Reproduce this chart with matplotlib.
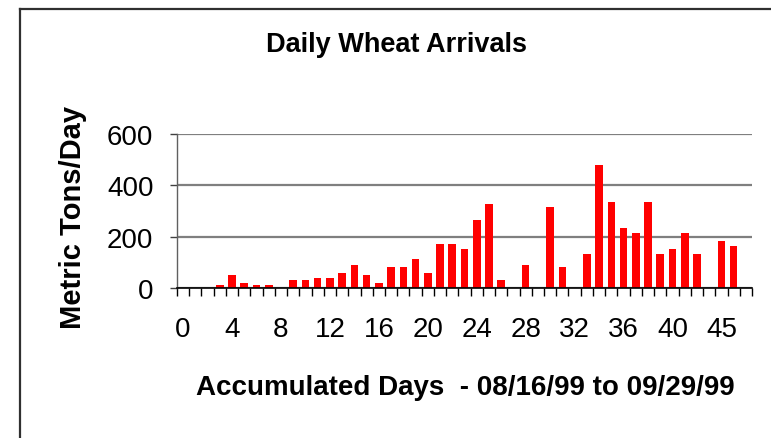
import numpy as np
import matplotlib
matplotlib.use('Agg')
import matplotlib.pyplot as plt
from matplotlib.lines import Line2D

# --- DATA ---
day_labels = [str(d) for d in range(0, 44)] + ['45', '46', '47']
arrivals = [0, 0, 0, 13, 52, 21, 13, 13, 0, 32,
            32, 40, 40, 60, 91, 52, 21, 83, 83, 114,
            60, 173, 173, 153, 266, 329, 32, 0, 91, 0,
            317, 83, 0, 134, 481, 337, 235, 216, 337, 134,
            153, 216, 134, 0, 185, 165, 0]
y_ticks = [0, 200, 400, 600]

plt.rcParams['font.family'] = ['Liberation Sans', 'DejaVu Sans']

W, H = 771, 439
fig = plt.figure(figsize=(W / 100, H / 100), dpi=100)

# axes placed in pixel terms of the reference
left, right, top, bottom = 177, 752, 135, 289
ax = fig.add_axes([left / W, 1 - bottom / H, (right - left) / W, (bottom - top) / H])

x = np.arange(len(arrivals))
ax.bar(x, arrivals, width=0.62, color='#ff0000', zorder=3)

ax.set_xlim(-0.5, len(arrivals) - 0.5)
ax.set_ylim(0, 600)

# y axis
ax.set_yticks(y_ticks)
ax.set_yticklabels([str(v) for v in y_ticks], fontsize=20)
ax.tick_params(axis='y', direction='out', length=5, width=1, pad=12, color='#404040')
ax.grid(axis='y', color='#7f7f7f', linewidth=1.6, zorder=1)

# x axis: labels every 4 categories, tick marks at category boundaries
ax.set_xticks(x[::4])
ax.set_xticklabels(day_labels[::4], fontsize=20)
ax.set_xticks(np.arange(-0.5, len(arrivals)), minor=True)
ax.tick_params(axis='x', which='major', length=0, pad=20)
ax.tick_params(axis='x', which='minor', direction='out', length=6, width=1, color='black')

for side in ['top', 'right']:
    ax.spines[side].set_visible(False)
ax.spines['left'].set_color('#606060')
ax.spines['left'].set_linewidth(1)
ax.spines['bottom'].set_color('black')
ax.spines['bottom'].set_linewidth(1.2)
ax.spines['bottom'].set_zorder(4)

# texts
fig.text(397 / W, 1 - 52 / H, 'Daily Wheat Arrivals', ha='center', va='baseline',
         fontsize=19.5, fontweight='bold')
fig.text(73 / W, 1 - 217 / H, 'Metric Tons/Day', ha='center', va='center',
         rotation=90, fontsize=21, fontweight='bold')
fig.text(465 / W, 1 - 395 / H, 'Accumulated Days  - 08/16/99 to 09/29/99',
         ha='center', va='baseline', fontsize=20, fontweight='bold')

# outer frame (left and top edges only visible)
fig.add_artist(Line2D([20 / W, 20 / W], [0, 1 - 10 / H], transform=fig.transFigure,
                      color='#303030', linewidth=1.6))
fig.add_artist(Line2D([20 / W, 1], [1 - 10 / H, 1 - 10 / H], transform=fig.transFigure,
                      color='#303030', linewidth=1.6))

plt.savefig('out.png', dpi=100)
